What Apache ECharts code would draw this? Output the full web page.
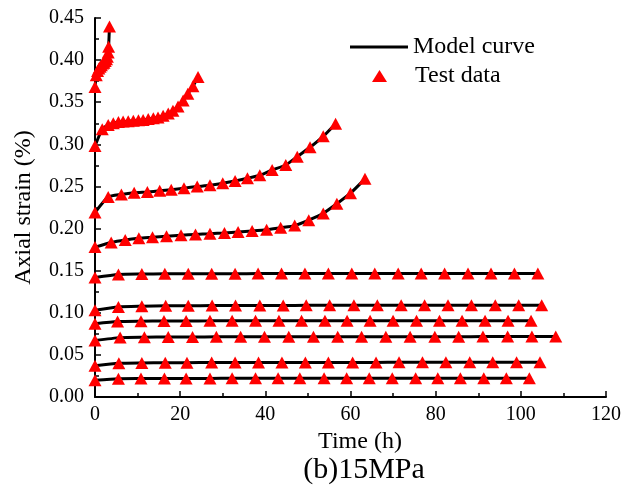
<!DOCTYPE html>
<html>
<head>
<meta charset="utf-8">
<script src="https://cdn.jsdelivr.net/npm/echarts@6/dist/echarts.min.js"></script>
<style>
  html, body { margin: 0; padding: 0; background: #fff; }
  #chart { width: 634px; height: 501px; }
</style>
</head>
<body>
<div id="chart"></div>
<script>
// Creep test data: time (h) and axial strain (%) for each loading stage
const tA = [0, 5.5, 10.8, 16.3, 21.4, 27.0, 32.2, 37.7, 43.0, 48.1, 53.8, 59.1, 64.4, 69.8, 75.3, 80.5, 85.8, 91.3, 96.6, 102.0];
const sA = [0.020, 0.0218, 0.0220, 0.0221, 0.0221, 0.0221, 0.0222, 0.0222, 0.0222, 0.0222, 0.0222, 0.0222, 0.0222, 0.0222, 0.0222, 0.0222, 0.0222, 0.0222, 0.0222, 0.0222];

const tB = [0, 5.6, 11.0, 16.5, 21.6, 27.4, 32.9, 38.4, 43.9, 49.4, 54.8, 60.5, 66.0, 71.4, 76.9, 82.4, 88.0, 93.4, 99.0, 104.5];
const sB = [0.037, 0.0400, 0.0405, 0.0407, 0.0408, 0.0409, 0.0410, 0.0410, 0.0410, 0.0411, 0.0411, 0.0411, 0.0411, 0.0412, 0.0412, 0.0412, 0.0412, 0.0412, 0.0412, 0.0412];

const tC = [0, 5.9, 11.6, 17.2, 22.9, 28.5, 34.2, 39.8, 45.5, 51.3, 57.0, 62.6, 68.3, 74.0, 79.8, 85.4, 91.1, 96.9, 102.6, 108.2];
const sC = [0.067, 0.0705, 0.0710, 0.0712, 0.0713, 0.0714, 0.0715, 0.0715, 0.0715, 0.0716, 0.0716, 0.0716, 0.0716, 0.0716, 0.0716, 0.0716, 0.0717, 0.0717, 0.0717, 0.0717];

const tD = [0, 5.3, 10.8, 16.2, 21.4, 27.0, 32.2, 37.7, 43.2, 48.5, 54.0, 59.2, 64.6, 70.0, 75.5, 80.9, 86.2, 91.6, 97.0, 102.4];
const sD = [0.087, 0.0895, 0.0900, 0.0902, 0.0903, 0.0904, 0.0905, 0.0905, 0.0905, 0.0906, 0.0906, 0.0906, 0.0906, 0.0906, 0.0906, 0.0906, 0.0906, 0.0906, 0.0906, 0.0906];

const tE = [0, 5.5, 11.0, 16.6, 21.9, 27.5, 33.0, 38.7, 44.2, 49.6, 55.1, 60.8, 66.3, 71.9, 77.4, 82.9, 88.4, 94.0, 99.5, 104.9];
const sE = [0.103, 0.1070, 0.1078, 0.1082, 0.1084, 0.1085, 0.1086, 0.1087, 0.1087, 0.1088, 0.1088, 0.1088, 0.1089, 0.1089, 0.1089, 0.1089, 0.1090, 0.1090, 0.1090, 0.1090];

const tF = [0, 5.5, 11.0, 16.4, 21.9, 27.4, 32.9, 38.3, 43.8, 49.3, 54.8, 60.3, 65.7, 71.2, 76.6, 82.1, 87.6, 93.0, 98.5, 104.0];
const sF = [0.142, 0.1455, 0.1460, 0.1462, 0.1463, 0.1464, 0.1464, 0.1465, 0.1465, 0.1465, 0.1465, 0.1466, 0.1466, 0.1466, 0.1466, 0.1466, 0.1466, 0.1466, 0.1466, 0.1466];

const tG = [0, 3.8, 7.1, 10.3, 13.5, 16.8, 20.2, 23.6, 27.0, 30.4, 33.6, 36.9, 40.3, 43.6, 46.9, 50.2, 53.6, 56.8, 60.0, 63.4];
const sG = [0.178, 0.1835, 0.1865, 0.1885, 0.1897, 0.1910, 0.1920, 0.1930, 0.1938, 0.1948, 0.1958, 0.1970, 0.1985, 0.2010, 0.2035, 0.2100, 0.2180, 0.2295, 0.2420, 0.2590];

const tH = [0, 3.1, 6.2, 9.2, 12.3, 15.2, 17.9, 20.9, 24.0, 27.0, 30.0, 32.9, 35.8, 38.7, 41.6, 44.8, 47.5, 50.5, 53.6, 56.5];
const sH = [0.219, 0.2375, 0.2405, 0.2425, 0.2435, 0.2448, 0.2462, 0.2480, 0.2498, 0.2514, 0.2538, 0.2565, 0.2597, 0.2633, 0.2696, 0.2755, 0.2854, 0.2965, 0.3095, 0.3245];

const tI = [0, 1.7, 3.1, 4.3, 5.5, 6.6, 7.8, 9.0, 10.2, 11.3, 12.5, 13.7, 14.8, 16.0, 17.2, 18.3, 19.5, 20.7, 21.8, 23.0, 24.2];
const sI = [0.298, 0.318, 0.323, 0.325, 0.3265, 0.327, 0.3275, 0.328, 0.3285, 0.329, 0.330, 0.331, 0.332, 0.334, 0.3365, 0.340, 0.345, 0.352, 0.360, 0.369, 0.380];

const tJ = [0, 0.3, 0.6, 0.9, 1.2, 1.5, 1.8, 2.1, 2.4, 2.7, 2.9, 3.1, 3.2, 3.4];
const sJ = [0.368, 0.382, 0.387, 0.390, 0.392, 0.394, 0.396, 0.397, 0.399, 0.401, 0.404, 0.409, 0.416, 0.440];

const xTicks = [0, 20, 40, 60, 80, 100, 120];
const yTicks = [0, 0.05, 0.10, 0.15, 0.20, 0.25, 0.30, 0.35, 0.40, 0.45];

const curves = [[tA, sA], [tB, sB], [tC, sC], [tD, sD], [tE, sE], [tF, sF], [tG, sG], [tH, sH], [tI, sI], [tJ, sJ]];

const FONT = '"Liberation Serif", "Times New Roman", serif';
const pairs = (t, s) => t.map((v, i) => [v, s[i]]);

const series = [];
curves.forEach(([t, s]) => {
  series.push({
    name: 'Model curve',
    type: 'line',
    data: pairs(t, s),
    symbol: 'none',
    smooth: 0.2,
    lineStyle: { color: '#000', width: 3 },
    itemStyle: { color: '#000' },
    z: 2,
    animation: false
  });
});
curves.forEach(([t, s]) => {
  series.push({
    name: 'Test data',
    type: 'scatter',
    data: pairs(t, s),
    symbol: 'triangle',
    symbolSize: [13, 12],
    itemStyle: { color: '#ff0000', opacity: 1 },
    z: 3,
    animation: false
  });
});

const axisCommon = {
  axisLine: { show: true, onZero: false, lineStyle: { color: '#000', width: 2 } },
  axisTick: { show: true, inside: true, length: 6, lineStyle: { color: '#000', width: 1.5 } },
  minorTick: { show: true, splitNumber: 2, length: 4, lineStyle: { color: '#000', width: 1.5 } },
  splitLine: { show: false },
  minorSplitLine: { show: false }
};

const chart = echarts.init(document.getElementById('chart'), null, { renderer: 'canvas' });
chart.setOption({
  backgroundColor: '#fff',
  animation: false,
  grid: { left: 95, top: 18, right: 28, bottom: 104, containLabel: false },
  xAxis: Object.assign({}, axisCommon, {
    type: 'value',
    min: xTicks[0],
    max: xTicks[xTicks.length - 1],
    interval: 20,
    name: 'Time (h)',
    nameLocation: 'middle',
    nameGap: 33,
    nameTextStyle: { fontFamily: FONT, fontSize: 24, color: '#000', padding: [0, 0, 0, 19] },
    axisLabel: { fontFamily: FONT, fontSize: 20, color: '#000', margin: 8 }
  }),
  yAxis: Object.assign({}, axisCommon, {
    type: 'value',
    min: yTicks[0],
    max: yTicks[yTicks.length - 1],
    interval: 0.05,
    name: 'Axial strain (%)',
    nameLocation: 'middle',
    nameGap: 59,
    nameTextStyle: { fontFamily: FONT, fontSize: 24, color: '#000' },
    axisLabel: { fontFamily: FONT, fontSize: 20, color: '#000', margin: 11, formatter: v => v.toFixed(2) }
  }),
  legend: [
    {
      data: [{ name: 'Model curve', icon: 'rect' }],
      left: 350, top: 35, padding: 0,
      itemWidth: 58, itemHeight: 3,
      textStyle: { fontFamily: FONT, fontSize: 24, color: '#000' },
      selectedMode: false
    },
    {
      data: [{ name: 'Test data', icon: 'triangle' }],
      left: 372, top: 64, padding: 0,
      itemWidth: 15, itemHeight: 12,
      textStyle: { fontFamily: FONT, fontSize: 24, color: '#000', padding: [0, 0, 0, 23] },
      selectedMode: false
    }
  ],
  graphic: [
    {
      type: 'text',
      x: 364, y: 470,
      style: { text: '(b)15MPa', fontFamily: FONT, fontSize: 30, fill: '#000', align: 'center', verticalAlign: 'middle' }
    }
  ],
  series: series
});
</script>
</body>
</html>
